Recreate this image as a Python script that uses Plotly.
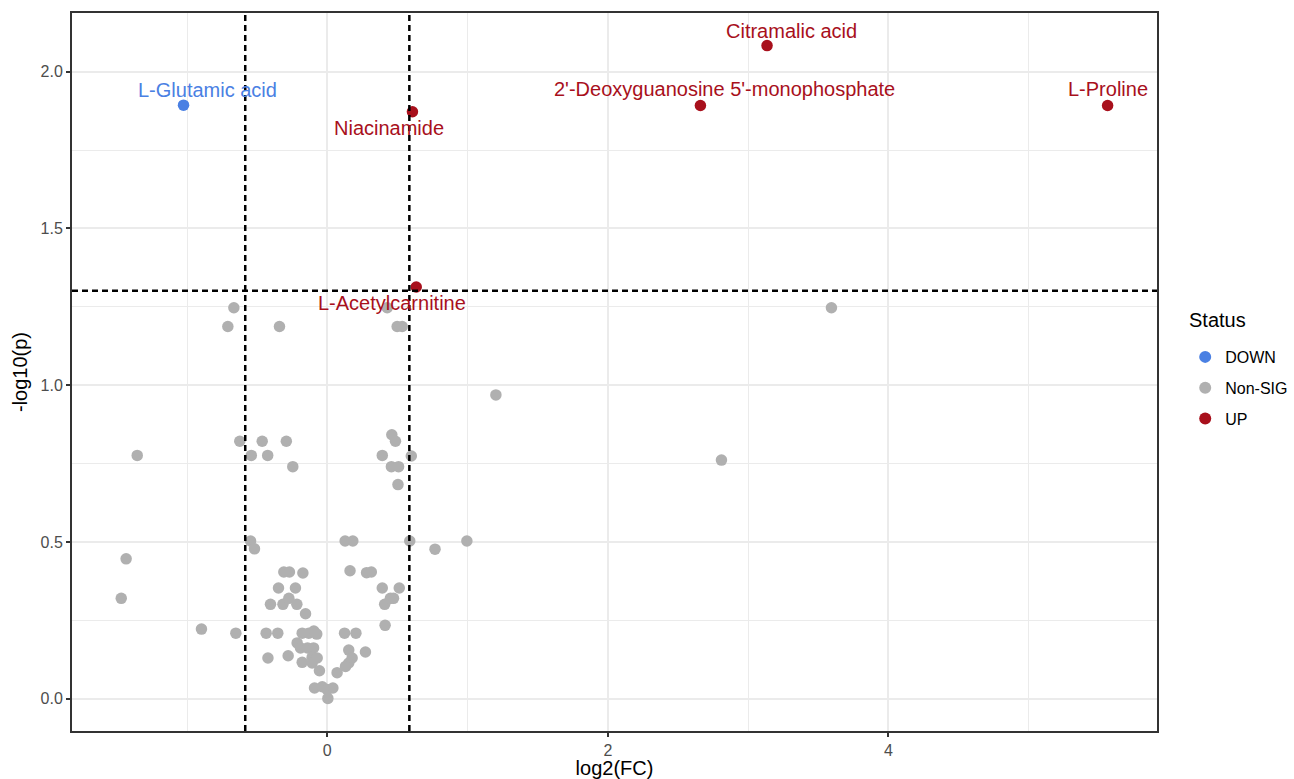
import plotly.graph_objects as go

# ---------------- data ----------------
# Significant metabolites
sig_names = ["L-Glutamic acid", "Niacinamide", "L-Acetylcarnitine",
             "Citramalic acid", "2'-Deoxyguanosine 5'-monophosphate", "L-Proline"]
sig_fc = [-1.025, 0.607, 0.634, 3.135, 2.660, 5.563]
sig_p = [1.893, 1.872, 1.313, 2.083, 1.892, 1.892]
sig_status = ["DOWN", "UP", "UP", "UP", "UP", "UP"]

# Non-significant metabolites
ns_fc = [-0.666, -0.709, -0.341, 0.427, 0.498, 0.534, 3.594, 1.202,
         -0.624, -0.464, -0.292, -1.355, -0.542, -0.425, 0.392, 0.599,
         0.460, 0.486, -0.246, 0.457, 0.508, 0.504, 2.810,
         -0.547, -0.519, 0.127, 0.182, 0.588, 0.768, 0.995, -1.434,
         -0.310, -0.270, -0.174, 0.162, 0.280, 0.314, -0.348, -0.227,
         0.392, 0.513, -1.469,
         -0.405, -0.316, -0.274, -0.217, -0.155, 0.409, 0.450, 0.472,
         0.412, -0.897, -0.652, -0.436, -0.353, -0.179, -0.132, -0.096,
         -0.075, 0.123, 0.204, -0.215, -0.191, -0.141, -0.098, 0.153,
         0.272, -0.423, -0.279, -0.179, -0.108, -0.072, -0.108, 0.177,
         0.153, 0.130, -0.056, 0.070, -0.091, -0.036, 0.000, 0.040, 0.004]
ns_p = [1.247, 1.187, 1.187, 1.247, 1.187, 1.187, 1.247, 0.969,
        0.821, 0.821, 0.821, 0.776, 0.776, 0.776, 0.776, 0.774,
        0.842, 0.821, 0.740, 0.740, 0.740, 0.683, 0.761,
        0.503, 0.478, 0.503, 0.503, 0.503, 0.477, 0.503, 0.446,
        0.404, 0.404, 0.401, 0.408, 0.402, 0.404, 0.353, 0.353,
        0.353, 0.353, 0.320,
        0.301, 0.301, 0.320, 0.301, 0.271, 0.301, 0.320, 0.320,
        0.234, 0.222, 0.209, 0.209, 0.209, 0.209, 0.209, 0.216,
        0.206, 0.209, 0.209, 0.178, 0.162, 0.162, 0.162, 0.155,
        0.149, 0.130, 0.137, 0.116, 0.132, 0.130, 0.114, 0.130,
        0.114, 0.103, 0.089, 0.083, 0.034, 0.038, 0.029, 0.034, 0.001]

fc_cut = 0.585
p_cut = 1.301

x_ticks = [0, 2, 4]
y_ticks = [0.0, 0.5, 1.0, 1.5, 2.0]

# ---------------- style ----------------
colors = {"DOWN": "#4A80E3", "Non-SIG": "#B0B0B0", "UP": "#A8101C"}
label_shift = [(24, 15), (-23, -16), (-24, -16), (24, 15), (24, 16), (0, 16)]
FONT = "Liberation Sans, Arial, sans-serif"

fig = go.Figure()

down_x = [x for x, s in zip(sig_fc, sig_status) if s == "DOWN"]
down_y = [y for y, s in zip(sig_p, sig_status) if s == "DOWN"]
up_x = [x for x, s in zip(sig_fc, sig_status) if s == "UP"]
up_y = [y for y, s in zip(sig_p, sig_status) if s == "UP"]

for name, xs, ys, grp in [("DOWN", down_x, down_y, "a"),
                          ("Non-SIG", ns_fc, ns_p, "b"),
                          ("UP", up_x, up_y, "c")]:
    fig.add_trace(go.Scatter(
        x=xs, y=ys, mode="markers", name=name, legendgroup=grp,
        marker=dict(size=11.5, color=colors[name], line=dict(width=0)),
        cliponaxis=False,
    ))

# threshold lines
for v in (-fc_cut, fc_cut):
    fig.add_shape(type="line", xref="x", yref="paper", x0=v, x1=v, y0=0, y1=1,
                  line=dict(color="black", width=2.5, dash="6px,4px"), layer="above")
fig.add_shape(type="line", xref="paper", yref="y", x0=0, x1=1, y0=p_cut, y1=p_cut,
              line=dict(color="black", width=2.5, dash="6px,4px"), layer="above")

# labels
for name, x, y, st, (dx, dy) in zip(sig_names, sig_fc, sig_p, sig_status, label_shift):
    fig.add_annotation(x=x, y=y, xref="x", yref="y", text=name, showarrow=False,
                       xshift=dx, yshift=dy, xanchor="center", yanchor="middle",
                       font=dict(family=FONT, size=20, color=colors[st]))

# legend title
fig.add_annotation(x=1.0276, y=0.5724, xref="paper", yref="paper", text="Status",
                   showarrow=False, xanchor="left", yanchor="middle",
                   font=dict(family=FONT, size=20, color="black"))

axis_common = dict(
    showline=True, linecolor="#333333", linewidth=2, mirror=True,
    ticks="outside", ticklen=4, tickwidth=2, tickcolor="#333333",
    tickfont=dict(family=FONT, size=16, color="#4D4D4D"),
    showgrid=True, gridcolor="#EBEBEB", gridwidth=2, zeroline=False,
    automargin=False,
)

fig.update_xaxes(range=[-1.82, 5.915], tickvals=x_ticks, ticktext=[str(t) for t in x_ticks],
                 minor=dict(dtick=1, tick0=1, showgrid=True, gridcolor="#EBEBEB", gridwidth=1, ticks=""),
                 title=dict(text="log2(FC)", font=dict(family=FONT, size=20, color="black"), standoff=6),
                 **axis_common)
fig.update_yaxes(range=[-0.103, 2.187], tickvals=y_ticks, ticktext=[f"{t:.1f}" for t in y_ticks],
                 minor=dict(dtick=0.25, tick0=0.25, showgrid=True, gridcolor="#EBEBEB", gridwidth=1, ticks=""),
                 title=dict(text="-log10(p)", font=dict(family=FONT, size=20, color="black"), standoff=8),
                 **axis_common)

fig.update_layout(
    width=1294, height=779,
    margin=dict(l=72, r=137, t=13, b=48, autoexpand=False),
    plot_bgcolor="white", paper_bgcolor="white",
    font=dict(family=FONT),
    showlegend=True,
    legend=dict(
        font=dict(family=FONT, size=16, color="black"),
        x=1.026, xanchor="left", y=0.5446, yanchor="top",
        tracegroupgap=7, itemsizing="constant",
        bgcolor="rgba(0,0,0,0)",
    ),
)

fig.write_html("out.html", config={"displayModeBar": False},
               post_script="document.body.style.margin='0';document.body.style.overflow='hidden';")
